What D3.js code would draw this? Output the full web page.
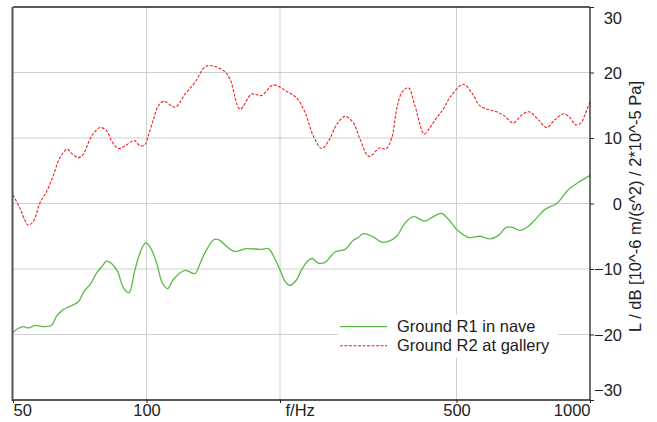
<!DOCTYPE html>
<html><head><meta charset="utf-8">
<script src="https://cdn.jsdelivr.net/npm/d3@7"></script>
<style>body{margin:0;background:#fff}svg{display:block}text{font-family:"Liberation Sans",Arial,sans-serif;fill:#222}</style>
</head><body>
<svg id="c" width="657" height="422"></svg>
<script>
// R1 (green, solid): frequency (Hz) and level (dB)
const r1Freq = [50,51.0,52.7,54.3,56.0,58.5,61.1,62.7,64.9,67.2,70.2,72.3,74.6,77.2,79.2,81.3,83.5,86.1,88.6,91.3,94.2,97.0,99.6,102.2,105.4,108.5,111.6,114.9,122.1,128.6,132.0,135.5,142.0,145.2,157.5,167.6,181.2,188.2,199.0,205.8,210.7,218.2,223.8,231.6,236.5,244.0,252.6,266.1,280.4,292.7,300.3,308.2,324.6,339.1,350.9,366.5,382.7,399.6,424.6,443.3,463.0,483.3,504.7,534.4,564.9,595.0,621.2,648.8,671.6,695.3,725.5,758.2,791.7,841.1,893.3,940.9,1000];
const r1Level = [-19.7,-19.2,-18.8,-19.0,-18.6,-18.8,-18.6,-17.2,-16.2,-15.7,-15.0,-13.4,-12.4,-10.6,-9.7,-8.8,-9.2,-10.4,-12.8,-13.6,-10.1,-7.3,-6.0,-6.8,-9.1,-12.1,-13.0,-11.6,-10.2,-10.7,-9.2,-7.5,-5.5,-5.5,-7.3,-6.9,-7.0,-6.9,-9.8,-12.0,-12.5,-11.6,-10.1,-8.7,-8.4,-9.1,-9.0,-7.4,-7.0,-5.6,-5.2,-4.6,-5.1,-5.9,-5.8,-5.0,-3.0,-2.0,-2.7,-2.0,-1.5,-2.7,-4.2,-5.2,-5.0,-5.4,-4.9,-3.6,-3.7,-4.1,-3.5,-2.2,-0.9,0.0,2.1,3.2,4.3];
// R2 (red, dashed)
const r2Freq = [50,51.9,53.2,54.1,55.6,57.5,59.6,61.6,63.8,66.3,67.9,70.2,72.0,75.2,78.6,81.3,83.5,86.4,89.4,93.9,96.7,99.2,100.9,103.6,106.3,109.5,116.0,122.1,128.6,136.7,149.0,154.3,162.5,172.6,181.8,193.1,207.2,218.2,227.8,237.8,248.4,257.1,268.6,280.4,292.7,303.1,317.5,336.1,346.2,357.2,366.5,376.2,389.3,403.0,423.0,435.7,451.1,466.8,483.3,518.0,541.1,564.9,592.8,616.1,643.2,671.6,701.5,728.6,764.6,798.7,833.8,873.7,901.4,928.4,954.4,974.4,1000];
const r2Level = [1.3,-0.8,-2.6,-3.3,-2.7,0.1,1.9,4.2,7.0,8.3,7.6,7.0,7.5,10.3,11.6,11.1,9.5,8.4,8.8,9.6,8.8,9.0,10.3,12.8,14.9,15.6,14.7,16.7,18.5,21.0,20.3,19.0,14.4,16.7,16.5,18.1,17.1,16.1,13.9,10.3,8.4,9.5,12.1,13.3,12.3,9.8,7.2,8.5,8.3,10.0,14.4,16.9,17.7,14.9,10.6,11.6,13.1,14.4,16.2,18.2,16.9,14.9,14.3,14.0,13.3,12.3,13.5,14.0,12.8,11.6,12.8,13.7,13.1,12.0,12.3,13.6,15.5];
const xGrid = [100, 200, 500];
const xTickLabels = [[50,"50"],[100,"100"],[200,"f/Hz"],[500,"500"],[1000,"1000"]];
const yTicks = [-30,-20,-10,0,10,20,30];
const seriesNames = ["Ground R1 in nave","Ground R2 at gallery"];
const yTitle = "L / dB [10^-6 m/(s^2) / 2*10^-5 Pa]";

const svg = d3.select("#c");
const L = 13, R = 590, T = 7, B = 400;
const x = d3.scaleLog().domain([50, 1000]).range([L, R]);
const y = d3.scaleLinear().domain([-30, 30]).range([B, T]);

const g = svg.append("g");
// grid
g.selectAll(".gy").data(yTicks.filter(v => v > -30 && v < 30)).enter().append("line")
  .attr("x1", L).attr("x2", R).attr("y1", d => y(d)).attr("y2", d => y(d))
  .attr("stroke", "#cfcfcf").attr("stroke-width", 1);
g.selectAll(".gx").data(xGrid).enter().append("line")
  .attr("x1", d => x(d)).attr("x2", d => x(d)).attr("y1", T).attr("y2", B)
  .attr("stroke", "#cfcfcf").attr("stroke-width", 1);

// curves
const line = d3.line().x(d => x(d[0])).y(d => y(d[1])).curve(d3.curveCatmullRom.alpha(0.5));
g.append("path").datum(r2Freq.map((f, i) => [f, r2Level[i]]))
  .attr("d", line).attr("fill", "none").attr("stroke", "#ee2222").attr("stroke-width", 1.1)
  .attr("stroke-dasharray", "3,1.5");
g.append("path").datum(r1Freq.map((f, i) => [f, r1Level[i]]))
  .attr("d", line).attr("fill", "none").attr("stroke", "#5cb848").attr("stroke-width", 1.3);

// frame
g.append("line").attr("x1", L).attr("x2", R).attr("y1", T).attr("y2", T).attr("stroke", "#222").attr("stroke-width", 1.3);
g.append("line").attr("x1", L).attr("x2", R).attr("y1", B).attr("y2", B).attr("stroke", "#222").attr("stroke-width", 1.3);
g.append("line").attr("x1", R).attr("x2", R).attr("y1", T).attr("y2", B).attr("stroke", "#222").attr("stroke-width", 1.3);
g.append("line").attr("x1", L - 0.5).attr("x2", L - 0.5).attr("y1", T).attr("y2", B + 1).attr("stroke", "#555").attr("stroke-width", 2);

// right axis ticks + labels
const yAx = svg.append("g").attr("transform", `translate(${R},0)`)
  .call(d3.axisRight(y).tickValues(yTicks).tickSize(4).tickFormat(d3.format("d")));
yAx.select(".domain").remove();
yAx.selectAll(".tick line").attr("stroke", "#222");
yAx.selectAll(".tick text").attr("x", 32).attr("text-anchor", "end")
  .style("font-size", "16.5px").attr("fill", "#222")
  .attr("dy", d => d === 30 ? "1.0em" : d === -30 ? "-0.25em" : "0.35em");

// bottom axis labels
const xAx = svg.append("g").attr("transform", `translate(0,${B})`)
  .call(d3.axisBottom(x).tickValues(xTickLabels.map(d => d[0])).tickSize(3)
    .tickFormat((d, i) => xTickLabels[i][1]));
xAx.select(".domain").remove();
xAx.selectAll(".tick line").attr("stroke", "#222");
xAx.selectAll(".tick text").style("font-size", "16.5px").attr("fill", "#222").attr("y", 4)
  .attr("text-anchor", (d, i) => i === 0 ? "start" : i === xTickLabels.length - 1 ? "end" : i === 2 ? "start" : "middle")
  .attr("dx", (d, i) => i === 2 ? "5" : "0");

// y title
svg.append("text").attr("transform", `translate(641,${(T + B) / 2 + 3}) rotate(-90)`)
  .attr("text-anchor", "middle").style("font-size", "16.5px").text(yTitle);

// legend
const lg = svg.append("g");
lg.append("rect").attr("x", 338).attr("y", 315).attr("width", 220).attr("height", 43).attr("fill", "#fff");
const styles = [{c: "#5cb848", dash: null, w: 1.3}, {c: "#ee2222", dash: "3,1.5", w: 1.1}];
seriesNames.forEach((name, i) => {
  const yy = 326.7 + i * 19;
  lg.append("line").attr("x1", 340).attr("x2", 387).attr("y1", yy).attr("y2", yy)
    .attr("stroke", styles[i].c).attr("stroke-width", styles[i].w).attr("stroke-dasharray", styles[i].dash);
  lg.append("text").attr("x", 397).attr("y", yy).attr("dy", "0.35em").style("font-size", "16.5px").text(name);
});
</script>
</body></html>
